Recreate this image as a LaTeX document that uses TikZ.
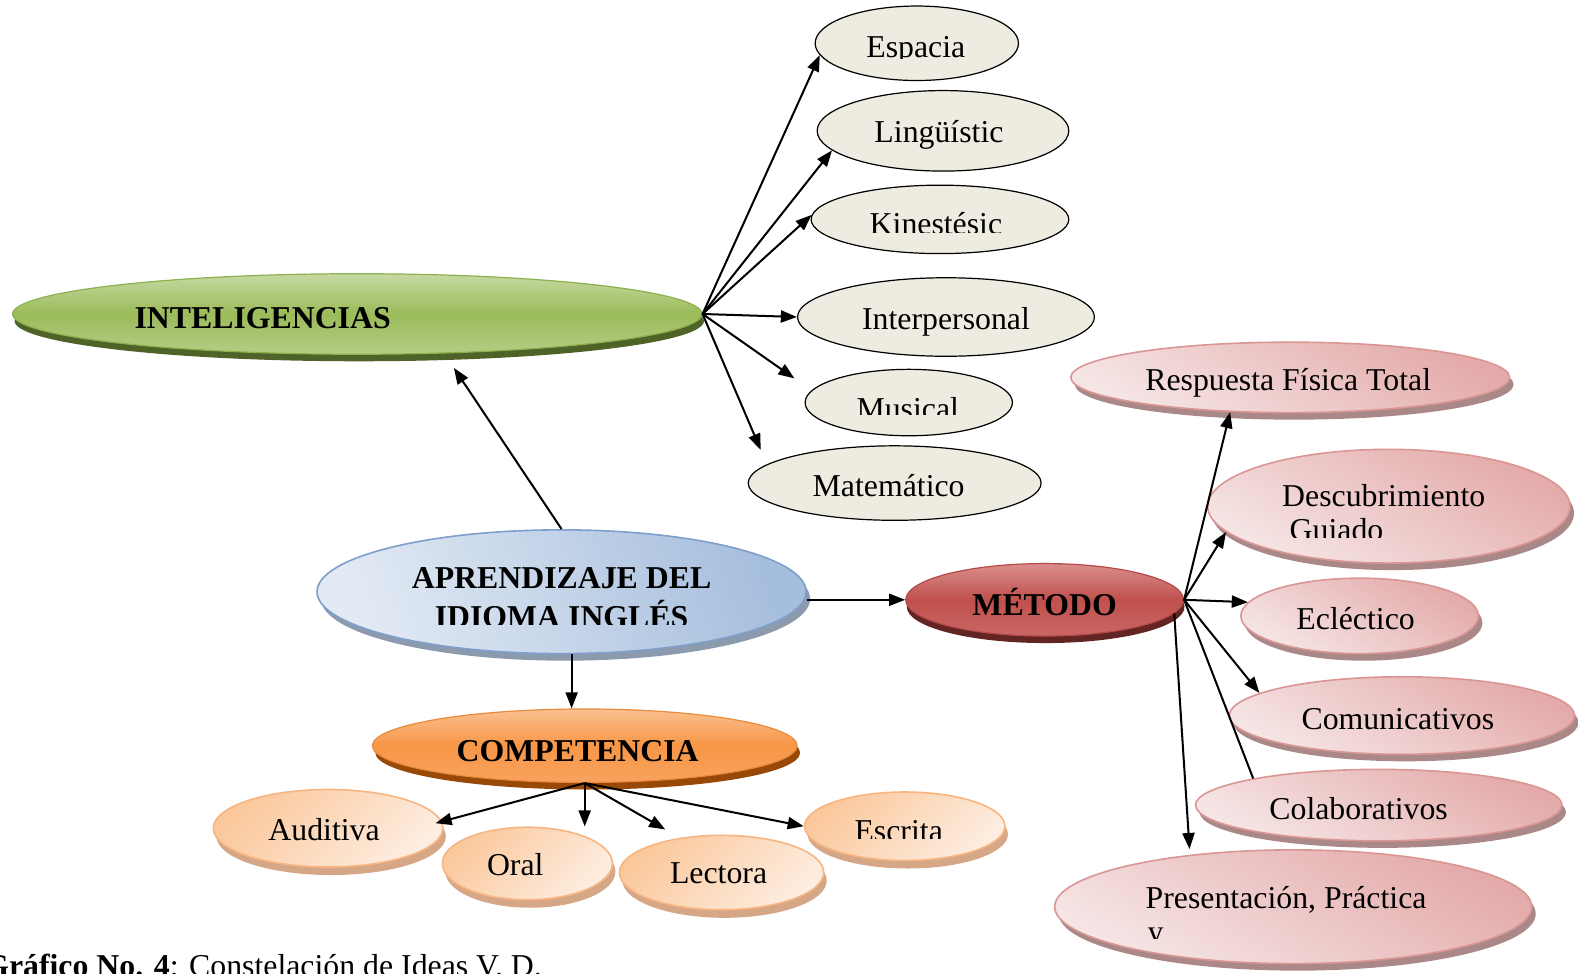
\documentclass[tikz,border=0pt]{standalone}
\usepackage{fontspec}
\setmainfont{Liberation Serif}
\usepackage{tikz}
\usetikzlibrary{shapes.geometric,shadows,calc}
\usetikzlibrary{arrows.meta}
\tikzset{>={Triangle[width=6pt,length=8pt]}}
\definecolor{beige}{HTML}{EEECE1}
\definecolor{greenL}{HTML}{C6D9A2}
\definecolor{greenM}{HTML}{9BBB59}
\definecolor{greenB}{HTML}{B6CD86}
\definecolor{greenE}{HTML}{8DB04E}
\definecolor{greenS}{HTML}{4F6228}
\definecolor{blueL}{HTML}{E2EAF4}
\definecolor{blueD}{HTML}{A6BEDD}
\definecolor{blueE}{HTML}{7F9FCB}
\definecolor{blueS}{HTML}{8C9AAE}
\definecolor{redL}{HTML}{D98E8C}
\definecolor{redM}{HTML}{C0504D}
\definecolor{redB}{HTML}{C96764}
\definecolor{redE}{HTML}{B54B48}
\definecolor{redS}{HTML}{632523}
\definecolor{orangeL}{HTML}{FAC090}
\definecolor{orangeM}{HTML}{F79646}
\definecolor{orangeB}{HTML}{F8A35F}
\definecolor{orangeE}{HTML}{E98A3B}
\definecolor{orangeS}{HTML}{984807}
\definecolor{peachD}{HTML}{FBC89C}
\definecolor{peachL}{HTML}{FDEDE0}
\definecolor{peachE}{HTML}{F8B581}
\definecolor{peachS}{HTML}{D5A787}
\definecolor{pinkD}{HTML}{E3AAA9}
\definecolor{pinkL}{HTML}{F6E5E5}
\definecolor{pinkE}{HTML}{D99694}
\definecolor{pinkS}{HTML}{AA8887}

\begin{document}
\begin{tikzpicture}[x=0.5pt, y=-0.5pt,
  bub/.style={ellipse, inner sep=0pt},
  idea/.style={bub, draw=black, line width=0.6pt, fill=beige},
  intbub/.style={bub, draw=greenE, line width=0.6pt, top color=greenL, bottom color=greenB, middle color=greenM,
    general shadow={fill=greenS, shadow xshift=1pt, shadow yshift=-3.5pt}},
  aprbub/.style={bub, draw=blueE, line width=0.8pt, left color=blueL, right color=blueD, shading angle=110,
    general shadow={fill=blueS, shadow xshift=2pt, shadow yshift=-3.5pt}},
  metbub/.style={bub, draw=redE, line width=0.6pt, top color=redL, bottom color=redB, middle color=redM,
    general shadow={fill=redS, shadow xshift=0.5pt, shadow yshift=-3.5pt}},
  compbub/.style={bub, draw=orangeE, line width=0.6pt, top color=orangeL, bottom color=orangeB, middle color=orangeM,
    general shadow={fill=orangeS, shadow xshift=1.5pt, shadow yshift=-3.5pt}},
  skill/.style={bub, draw=peachE, line width=0.8pt, top color=peachD, bottom color=peachL, shading angle=45,
    general shadow={fill=peachS, shadow xshift=1.5pt, shadow yshift=-4pt}},
  method/.style={bub, draw=pinkE, line width=0.8pt, top color=pinkD, bottom color=pinkL, shading angle=-30,
    general shadow={fill=pinkS, shadow xshift=2pt, shadow yshift=-3.5pt}},
  lbl/.style={anchor=base, inner sep=0pt, font=\fontsize{15.8}{19}\selectfont},
  head/.style={lbl, font=\fontsize{15.8}{19}\selectfont\bfseries},
  link/.style={->, line width=1pt}]

  \useasboundingbox (0,0) rectangle (1568,967);

  \node[idea, minimum width=101pt, minimum height=37pt] (esp) at (911,43) {};
  \node[idea, minimum width=125pt, minimum height=40pt] (lin) at (937,130) {};
  \node[idea, minimum width=128pt, minimum height=34pt] (kin) at (934,218) {};
  \node[idea, minimum width=147.5pt, minimum height=39pt] (inter) at (940,315) {};
  \node[idea, minimum width=103pt, minimum height=33pt] (mus) at (903,400) {};
  \node[idea, minimum width=145.5pt, minimum height=37pt] (mat) at (889,480) {};

  \node[intbub, minimum width=342.5pt, minimum height=40pt] (int) at (355,312) {};
  \node[aprbub, minimum width=243pt, minimum height=61.5pt] (apr) at (558,588) {};
  \node[metbub, minimum width=138pt, minimum height=36pt] (met) at (1038,596) {};
  \node[compbub, minimum width=211pt, minimum height=36.5pt] (com) at (581,741) {};

  \node[skill, minimum width=114pt, minimum height=38.5pt] (aud) at (326,823) {};
  \node[skill, minimum width=99.5pt, minimum height=34pt] (esc) at (899,821) {};
  \node[skill, minimum width=84.5pt, minimum height=36pt] (oral) at (524,858) {};
  \node[skill, minimum width=101.5pt, minimum height=37pt] (lec) at (717,867) {};

  \node[method, minimum width=218pt, minimum height=35pt] (rft) at (1282,375) {};
  \node[method, minimum width=180pt, minimum height=56.5pt] (des) at (1380,503) {};
  \node[method, minimum width=118pt, minimum height=37.5pt] (ecl) at (1351,612) {};
  \node[method, minimum width=171.5pt, minimum height=38.5pt] (comu) at (1393,711) {};
  \node[method, minimum width=182pt, minimum height=35.5pt] (col) at (1370,800) {};
  \node[method, minimum width=237pt, minimum height=56.5pt] (pre) at (1285,901) {};

  \node[head] (int-t) at (261,326) {INTELIGENCIAS};
  \node[head] (apr-t1) at (558,585) {APRENDIZAJE DEL};
  \begin{scope}
    \clip (400,590) rectangle (720,621);
    \node[head] (apr-t2) at (558,624) {IDIOMA INGLÉS};
  \end{scope}
  \node[head] (met-t) at (1038,612) {MÉTODO};
  \node[head] (com-t) at (574,757) {COMPETENCIA};

  \begin{scope}
    \clip (840,20) rectangle (980,58);
    \node[lbl] (esp-t) at (910,57) {Espacia};
  \end{scope}
  \node[lbl] (lin-t) at (933,142) {Lingüístic};
  \begin{scope}
    \clip (850,195) rectangle (1010,231);
    \node[lbl] (kin-t) at (930,233) {Kinestésic};
  \end{scope}
  \node[lbl] (inter-t) at (940,327) {Interpersonal};
  \begin{scope}
    \clip (840,380) rectangle (970,412);
    \node[lbl] (mus-t) at (902,417) {Musical};
  \end{scope}
  \node[lbl] (mat-t) at (883,493) {Matemático};

  \node[lbl] (aud-t) at (322,835) {Auditiva};
  \node[lbl] (oral-t) at (512,870) {Oral};
  \node[lbl] (lec-t) at (714,878) {Lectora};
  \begin{scope}
    \clip (830,800) rectangle (960,833);
    \node[lbl] (esc-t) at (893,836) {Escrita};
  \end{scope}

  \node[lbl] (rft-t) at (1280,388) {Respuesta Física Total};
  \node[lbl] (des-t1) at (1375,503) {Descubrimiento};
  \begin{scope}
    \clip (1260,505) rectangle (1400,534);
    \node[lbl] (des-t2) at (1328,537) {Guiado};
  \end{scope}
  \node[lbl] (ecl-t) at (1347,626) {Ecléctico};
  \node[lbl] (comu-t) at (1389,725) {Comunicativos};
  \node[lbl] (col-t) at (1350,814) {Colaborativos};
  \node[lbl, anchor=base west] (pre-t1) at (1138,903) {Presentación, Práctica};
  \begin{scope}
    \clip (1120,910) rectangle (1180,933);
    \node[lbl, anchor=base west] (pre-t2) at (1140,937) {y};
  \end{scope}

  \draw[link] (int.east) -- (esp.187);
  \draw[link] (int.east) -- (lin.190);
  \draw[link] (int.east) -- (kin.178);
  \draw[link] (int.east) -- (inter.west);
  \draw[link] (int.east) -- ($(mus.west)+(-10,-24)$);
  \draw[link] (int.east) -- ($(mat.west)+(13,-33)$);

  \draw[link] (apr.north) -- ($(int.south)+(96,13)$);
  \draw[link] (apr.east |- met.west) -- (met.west);
  \draw[link] ($(apr.south)+(10,0)$) -- ($(com.north)+(-13,0)$);

  \draw[link] (com.south) -- ($(aud.east)+(-8,-5)$);
  \draw[link] (com.south) -- (com.south |- oral.north);
  \draw[link] (com.south) -- ($(lec.north)+(-56,-5)$);
  \draw[link] (com.south) -- (esc.west);

  \draw[link] (met.east) -- (rft.210);
  \draw[link] (met.east) -- (des.189);
  \draw[link] (met.east) -- (ecl.173);
  \draw[link] (met.east) -- (comu.171);
  \draw[line width=1pt] (met.east) -- (col.168);
  \draw[link] (met.-6) -- ($(pre.north)+(-103,0)$);

  \node[lbl, anchor=base west] (cap) at (-16,970) {\textbf{Gráfico No. 4}: Constelación de Ideas V. D.};

\end{tikzpicture}
\end{document}
